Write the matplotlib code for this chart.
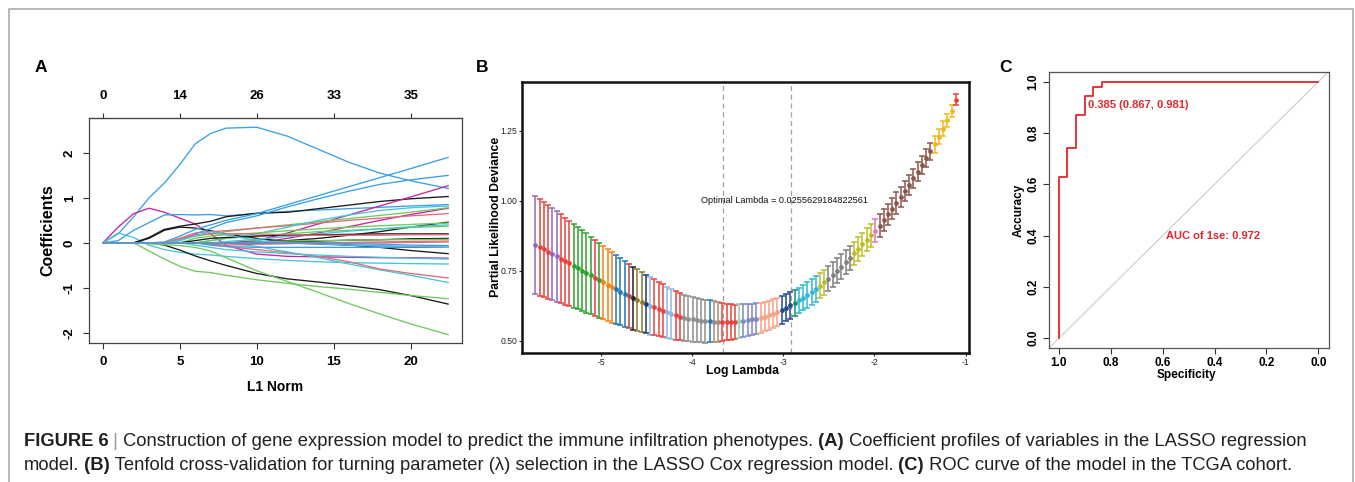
import matplotlib
matplotlib.use("Agg")
import matplotlib.pyplot as plt
import numpy as np
from matplotlib.lines import Line2D

plt.rcParams['font.family'] = ['Liberation Sans', 'DejaVu Sans']
plt.rcParams['axes.unicode_minus'] = False

# ---------------- Panel A data: LASSO coefficient paths ----------------
l1_knots = [0, 1, 2, 3, 4, 5, 6, 7, 8, 10, 12, 14, 16, 18, 20, 22.44]
l1_ticks = [0, 5, 10, 15, 20]
df_labels = ['0', '14', '26', '33', '35']
coef_colors = ['blue', 'magenta', 'cyan', 'blue', 'black', 'black', 'black', 'green', 'green',
               'cyan', 'red', 'cyan', 'magenta', 'magenta', 'green', 'red', 'blue', 'blue',
               'cyan', 'black', 'green', 'green', 'cyan', 'black', 'red', 'black', 'red',
               'blue', 'magenta', 'green', 'cyan', 'red', 'blue']
coef_paths = [
    [0, 0.2, 0.58, 1.0, 1.33, 1.74, 2.2, 2.43, 2.55, 2.57, 2.37, 2.08, 1.79, 1.55, 1.38, 1.21],
    [0, 0.35, 0.65, 0.77, 0.68, 0.55, 0.42, 0.2, -0.05, -0.25, -0.3, -0.31, -0.32, -0.33, -0.33, -0.34],
    [0, 0.22, 0.12, -0.05, -0.15, -0.21, -0.25, -0.27, -0.3, -0.35, -0.39, -0.42, -0.44, -0.45, -0.46, -0.47],
    [0, 0.05, 0.28, 0.45, 0.62, 0.63, 0.62, 0.63, 0.6, 0.65, 0.7, 0.73, 0.76, 0.79, 0.82, 0.85],
    [0, 0, 0, 0.12, 0.3, 0.37, 0.42, 0.48, 0.58, 0.66, 0.68, 0.76, 0.84, 0.92, 0.98, 1.03],
    [0, 0, 0, 0.1, 0.28, 0.35, 0.33, 0.27, 0.2, 0.1, 0.03, 0, -0.05, -0.1, -0.17, -0.24],
    [0, 0, 0, 0, -0.05, -0.16, -0.29, -0.4, -0.5, -0.68, -0.8, -0.87, -0.95, -1.04, -1.17, -1.36],
    [0, 0, 0, -0.18, -0.36, -0.52, -0.63, -0.66, -0.72, -0.82, -0.9, -0.97, -1.03, -1.1, -1.17, -1.24],
    [0, 0, 0, -0.02, -0.04, -0.06, -0.1, -0.18, -0.33, -0.62, -0.86, -1.1, -1.35, -1.58, -1.8, -2.04],
    [0, 0, 0, 0, 0, 0, 0, 0, 0, -0.08, -0.2, -0.33, -0.47, -0.6, -0.72, -0.88],
    [0, 0, 0, 0, 0, 0, 0, -0.03, -0.08, -0.15, -0.22, -0.3, -0.42, -0.58, -0.68, -0.78],
    [0, 0, 0, 0, 0, 0, -0.05, -0.1, -0.15, -0.2, -0.24, -0.27, -0.3, -0.32, -0.34, -0.36],
    [0, 0, 0, 0, 0, 0, 0, 0, 0, 0.05, 0.22, 0.42, 0.62, 0.82, 1.02, 1.27],
    [0, 0, 0, 0, 0, 0, 0, 0, 0, 0, 0.1, 0.22, 0.36, 0.5, 0.63, 0.77],
    [0, 0, 0, 0, 0, 0.08, 0.15, 0.2, 0.25, 0.33, 0.4, 0.47, 0.54, 0.61, 0.68, 0.78],
    [0, 0, 0, 0, 0, 0.1, 0.22, 0.25, 0.27, 0.33, 0.38, 0.44, 0.5, 0.55, 0.6, 0.65],
    [0, 0, 0, 0, 0.02, 0.15, 0.3, 0.4, 0.5, 0.65, 0.85, 1.05, 1.25, 1.45, 1.65, 1.9],
    [0, 0, 0, 0, 0, 0.05, 0.2, 0.32, 0.45, 0.6, 0.8, 0.98, 1.15, 1.3, 1.4, 1.5],
    [0, 0, 0, 0, 0, 0, 0, 0.05, 0.1, 0.2, 0.35, 0.5, 0.62, 0.72, 0.78, 0.82],
    [0, 0, 0, 0, 0, 0, 0, 0, 0, 0.02, 0.05, 0.1, 0.17, 0.25, 0.35, 0.46],
    [0, 0, 0, 0, 0, 0, 0.1, 0.15, 0.18, 0.22, 0.27, 0.31, 0.35, 0.38, 0.41, 0.44],
    [0, 0, 0, 0, 0, 0, 0, 0.05, 0.1, 0.15, 0.2, 0.25, 0.28, 0.31, 0.34, 0.37],
    [0, 0, 0, 0, 0, 0, 0, 0, 0.03, 0.08, 0.14, 0.2, 0.26, 0.31, 0.36, 0.4],
    [0, 0, 0, 0, 0, 0, 0.05, 0.1, 0.12, 0.15, 0.17, 0.18, 0.19, 0.2, 0.2, 0.2],
    [0, 0, 0, 0, 0, 0.1, 0.18, 0.2, 0.2, 0.2, 0.18, 0.17, 0.17, 0.17, 0.18, 0.18],
    [0, 0, 0, 0, 0, 0, 0, 0, 0, 0, 0.02, 0.04, 0.06, 0.07, 0.09, 0.1],
    [0, 0, 0, 0, 0, 0, 0, -0.03, -0.05, -0.03, -0.02, 0, 0, 0, 0.01, 0.02],
    [0, 0, 0, 0, 0, 0, 0, -0.05, -0.08, -0.1, -0.1, -0.1, -0.1, -0.1, -0.1, -0.1],
    [0, 0, 0, 0, 0, 0, 0, 0, 0, 0, 0, -0.03, -0.05, -0.07, -0.09, -0.1],
    [0, 0, 0, 0, 0, 0, 0, 0, 0, 0.02, 0.04, 0.05, 0.06, 0.07, 0.07, 0.08],
    [0, 0, 0, 0, 0, 0.05, 0.15, 0.25, 0.18, 0.05, 0, -0.02, -0.05, -0.07, -0.08, -0.1],
    [0, 0, 0, 0, 0, 0, 0, 0, 0, 0, 0, 0, 0.01, 0.02, 0.03, 0.04],
    [0, 0, 0, 0, 0, 0, 0, 0, 0, 0, 0, 0, -0.02, -0.03, -0.05, -0.06],
]

# ---------------- Panel B data: cross-validation curve ----------------
log_lambda = [-5.720, -5.673, -5.627, -5.580, -5.534, -5.487, -5.440, -5.394, -5.347, -5.301,
              -5.254, -5.207, -5.161, -5.114, -5.068, -5.021, -4.974, -4.928, -4.881, -4.835,
              -4.788, -4.741, -4.695, -4.648, -4.602, -4.555, -4.508, -4.462, -4.415, -4.369,
              -4.322, -4.275, -4.229, -4.182, -4.136, -4.089, -4.042, -3.996, -3.949, -3.903,
              -3.856, -3.809, -3.763, -3.716, -3.670, -3.623, -3.576, -3.530, -3.483, -3.437,
              -3.390, -3.343, -3.297, -3.250, -3.204, -3.157, -3.110, -3.064, -3.017, -2.971,
              -2.924, -2.877, -2.831, -2.784, -2.738, -2.691, -2.644, -2.598, -2.551, -2.505,
              -2.458, -2.411, -2.365, -2.318, -2.272, -2.225, -2.178, -2.132, -2.085, -2.039,
              -1.992, -1.945, -1.899, -1.852, -1.806, -1.759, -1.712, -1.666, -1.619, -1.573,
              -1.526, -1.479, -1.433, -1.386, -1.340, -1.293, -1.246, -1.200, -1.153, -1.107]
cv_mean = [0.843, 0.835, 0.827, 0.818, 0.810, 0.802, 0.794, 0.785, 0.777, 0.768,
           0.760, 0.751, 0.743, 0.734, 0.726, 0.717, 0.709, 0.700, 0.692, 0.684, 0.676,
           0.668, 0.661, 0.653, 0.646, 0.639, 0.632, 0.626, 0.620,
           0.614, 0.608, 0.602, 0.597, 0.592, 0.587, 0.583,
           0.580, 0.577, 0.575, 0.573,
           0.571, 0.570, 0.569, 0.568, 0.567, 0.568, 0.568, 0.569, 0.571,
           0.573, 0.575, 0.577, 0.579,
           0.583, 0.587, 0.592, 0.598, 0.604,
           0.611, 0.619, 0.627, 0.636,
           0.645, 0.655, 0.665, 0.675, 0.686, 0.698, 0.710,
           0.723, 0.737, 0.751, 0.766, 0.781, 0.797,
           0.813, 0.829, 0.845, 0.861, 0.877, 0.893,
           0.912, 0.932, 0.952, 0.972, 0.993, 1.014, 1.036, 1.058, 1.081, 1.104, 1.128, 1.152, 1.177,
           1.203, 1.230, 1.258, 1.288, 1.322, 1.362]
cv_se = [0.176, 0.173, 0.170, 0.167, 0.164, 0.161, 0.158, 0.156, 0.153, 0.150,
         0.147, 0.145, 0.142, 0.139, 0.136, 0.134, 0.131, 0.128, 0.126, 0.123, 0.120,
         0.118, 0.115, 0.113, 0.110, 0.108, 0.105, 0.103, 0.100,
         0.097, 0.095, 0.092, 0.090, 0.088, 0.085, 0.083,
         0.081, 0.080, 0.079, 0.078,
         0.077, 0.075, 0.073, 0.070, 0.067, 0.065, 0.063, 0.061, 0.060,
         0.058, 0.057, 0.056, 0.055,
         0.054, 0.053, 0.052, 0.051, 0.050,
         0.049, 0.048, 0.047, 0.047,
         0.046, 0.046, 0.046, 0.046, 0.046, 0.046, 0.045,
         0.045, 0.045, 0.044, 0.044, 0.043, 0.043,
         0.042, 0.042, 0.042, 0.041, 0.041, 0.041,
         0.040, 0.039, 0.039, 0.038, 0.038, 0.037, 0.036, 0.036, 0.035, 0.034, 0.033, 0.032, 0.031,
         0.030, 0.028, 0.026, 0.024, 0.022, 0.020]
group_sizes = [1, 3, 2, 3, 5, 1, 1, 3, 3, 1, 1, 2, 1, 1, 3, 2, 2, 6, 1, 1, 1, 4, 1, 4, 5, 3, 1,
               5, 2, 6, 5, 1, 13, 5, 1]
group_colors = ['#9467BD', '#E8413C', '#9467BD', '#E8413C', '#2CA02C', '#E8413C', '#2CA02C',
                '#FF7F0E', '#1F77B4', '#C0443C', '#222222', '#8C7B2E', '#1F3A6B', '#8DB6E2',
                '#E8413C', '#8DB6E2', '#E8413C', '#8F8F8F', '#1F77B4', '#8F8F8F', '#A88B6B',
                '#E8413C', '#8ED5B5', '#7F89C0', '#F9A184', '#24478A', '#12906A', '#2DB6DA',
                '#B8BD34', '#808080', '#BCBD22', '#E377C2', '#8C564B', '#F2B81A', '#E8413C']
lambda_min = 0.0255629184822561
log_lambda_1se = -2.92

# ---------------- Panel C data: ROC ----------------
roc_spec = [1.0, 1.0, 0.967, 0.933, 0.900, 0.867, 0.833, 0.0]
roc_sens = [0.0, 0.630, 0.741, 0.870, 0.944, 0.981, 1.000, 1.000]
thr_label = '0.385 (0.867, 0.981)'
auc_label = 'AUC of 1se: 0.972'

# ---------------- Figure ----------------
W, H = 1355, 482
fig = plt.figure(figsize=(W / 100, H / 100), dpi=100)


def fx(px):
    return px / W


def fy(py):
    return 1 - py / H


def rect(l, t, r, b):
    return [fx(l), fy(b), (r - l) / W, (b - t) / H]


fig.add_artist(Line2D([fx(9), fx(9), fx(1353), fx(1353)], [0, fy(8.5), fy(8.5), 0],
                      color='#ABABAB', lw=1.2, transform=fig.transFigure))

r_pal = {'black': '#1A1A1A', 'red': '#E36A7C', 'green': '#6CCB5B', 'blue': '#3A9FE6',
         'cyan': '#45C6DA', 'magenta': '#C8259F'}

# ---- Panel A ----
axA = fig.add_axes(rect(89, 118, 462, 343))
for vals, c in zip(coef_paths, coef_colors):
    axA.plot(l1_knots, vals, color=r_pal[c], lw=0.95)
axA.set_xlim(-0.9, 23.34)
axA.set_ylim(-2.225, 2.775)
axA.set_xticks(l1_ticks)
axA.set_xticklabels([str(t) for t in l1_ticks], fontweight='bold')
axA.set_yticks([-2, -1, 0, 1, 2])
axA.set_yticklabels(['-2', '-1', '0', '1', '2'], rotation=90, va='center', fontweight='bold')
axA.tick_params(direction='out', length=4.5, width=0.8, labelsize=9.5, pad=5, color='#333333')
for s in axA.spines.values():
    s.set_color('#444444')
    s.set_linewidth(0.9)
topA = axA.secondary_xaxis('top')
topA.set_xticks(l1_ticks, labels=df_labels, fontweight='bold')
topA.tick_params(direction='out', length=3.5, width=0.8, labelsize=9.5, pad=8, color='#333333')
topA.spines['top'].set_color('#444444')
fig.text(fx(275), fy(386.7), 'L1 Norm', ha='center', va='center', fontsize=10, fontweight='bold')
fig.text(fx(48), fy(230), 'Coefficients', ha='center', va='center', rotation=90,
         fontsize=11.5, fontweight='bold')

# ---- Panel B ----
axB = fig.add_axes(rect(521.7, 81.7, 969.3, 353.3))
xs = np.array(log_lambda)
ms = np.array(cv_mean)
ss = np.array(cv_se)
i0 = 0
for n, c in zip(group_sizes, group_colors):
    sl = slice(i0, i0 + n)
    axB.errorbar(xs[sl], ms[sl], yerr=ss[sl], fmt='o', color=c, ms=2.4, elinewidth=1.1,
                 capsize=2.0, capthick=1.1)
    i0 += n
for v in (np.log(lambda_min), log_lambda_1se):
    axB.axvline(v, color='#A0A0A0', lw=0.9, ls=(0, (4, 3)), zorder=0)
axB.set_xlim(-5.87, -0.96)
axB.set_ylim(0.456, 1.426)
axB.set_xticks([-5, -4, -3, -2, -1])
axB.set_yticks([0.5, 0.75, 1.0, 1.25])
axB.set_yticklabels(['0.50', '0.75', '1.00', '1.25'])
axB.tick_params(direction='out', length=2, width=0.8, labelsize=6.2, pad=1.2, colors='#222222')
for s in axB.spines.values():
    s.set_color('#111111')
    s.set_linewidth(1.8)
axB.text(-2.99, 1.0, 'Optimal Lambda = ' + repr(lambda_min), ha='center', va='center',
         fontsize=6.6, color='#111111')
fig.text(fx(743), fy(371), 'Log Lambda', ha='center', va='center',
         fontsize=8.8, fontweight='bold')
fig.text(fx(496), fy(216.7), 'Partial Likelihood Deviance', ha='center', va='center',
         rotation=90, fontsize=8.8, fontweight='bold')

# ---- Panel C ----
axC = fig.add_axes(rect(1049.3, 71.7, 1329, 347.7))
axC.axline((1, 0), (0, 1), color='#D0D0D0', lw=0.9, zorder=1)
axC.plot(roc_spec, roc_sens, drawstyle='steps-post', color='#E3262B', lw=1.3, zorder=3)
axC.set_xlim(1.037, -0.041)
axC.set_ylim(-0.037, 1.039)
cticks = [0.0, 0.2, 0.4, 0.6, 0.8, 1.0]
axC.set_xticks(cticks)
axC.set_xticklabels(['%.1f' % t for t in cticks], fontweight='bold')
axC.set_yticks(cticks)
axC.set_yticklabels(['%.1f' % t for t in cticks], rotation=90, va='center', fontweight='bold')
axC.tick_params(direction='out', length=4, width=0.8, labelsize=8.5, pad=3, color='#333333')
for s in axC.spines.values():
    s.set_color('#555555')
    s.set_linewidth(0.9)
axC.text(0.887, 0.909, thr_label, ha='left', va='center', fontsize=8, fontweight='bold',
         color='#E3262B')
axC.text(0.587, 0.40, auc_label, ha='left', va='center', fontsize=8, fontweight='bold',
         color='#E3262B')
fig.text(fx(1186.7), fy(375), 'Specificity', ha='center', va='center', fontsize=8.5, fontweight='bold')
fig.text(fx(1019), fy(210), 'Accuracy', ha='center', va='center', rotation=90,
         fontsize=8.5, fontweight='bold')

# ---- Panel letters ----
for lx, lab in ((35, 'A'), (476, 'B'), (999, 'C')):
    fig.text(fx(lx), fy(71.5), lab, ha='left', va='baseline', fontsize=12.5, fontweight='bold')

# ---- Caption ----
dark = '#231F20'
line1 = [('FIGURE 6', 'bold', dark), (' |', 'normal', '#9A9A9A'),
         (' Construction of gene expression model to predict the immune infiltration phenotypes.',
          'normal', dark),
         (' (A)', 'bold', dark), (' Coefficient profiles of variables in the LASSO regression', 'normal', dark)]
line2 = [('model.', 'normal', dark), (' (B)', 'bold', dark),
         (' Tenfold cross-validation for turning parameter (\u03bb) selection in the LASSO Cox regression model.',
          'normal', dark),
         (' (C)', 'bold', dark), (' ROC curve of the model in the TCGA cohort.', 'normal', dark)]

renderer = fig.canvas.get_renderer()


def rich_line(pieces, x0, ybase, size):
    x = x0
    for s, w, c in pieces:
        t = fig.text(fx(x), fy(ybase), s, fontsize=size, fontweight=w, color=c,
                     ha='left', va='baseline')
        x += t.get_window_extent(renderer).width
    return x


rich_line(line1, 23.5, 445.5, 13.2)
rich_line(line2, 23.5, 470.5, 13.2)

fig.savefig('out.png', dpi=100)
